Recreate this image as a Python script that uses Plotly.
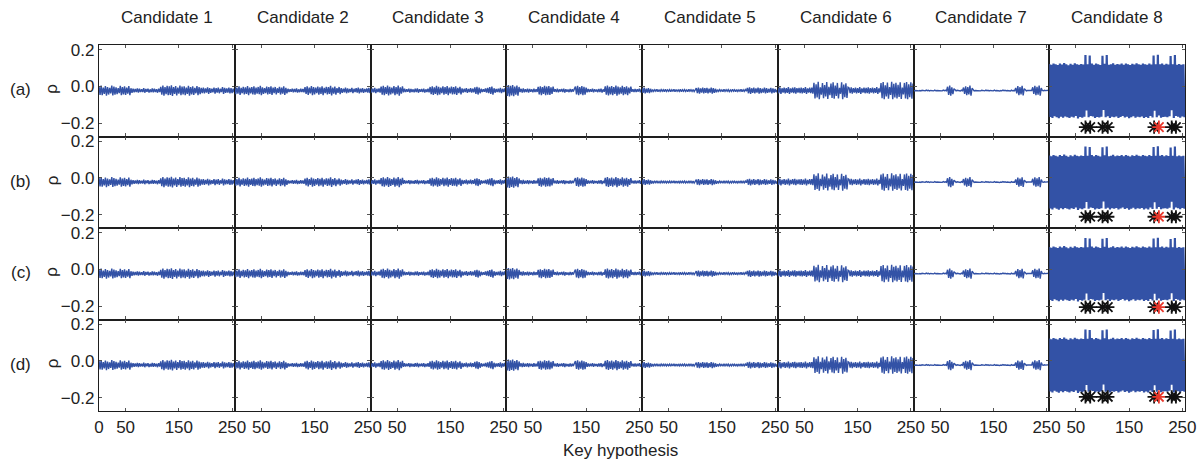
import plotly.graph_objects as go

# ---------------- data ----------------
KEYS = list(range(0, 256, 2))          # key hypotheses (sampled every 2)
CANDIDATES = [f"Candidate {i}" for i in range(1, 9)]
ROW_LABELS = ["(a)", "(b)", "(c)", "(d)"]
X_TICKS_FIRST = [0, 50, 150, 250]
X_TICKS_OTHER = [50, 150, 250]
Y_TICKS = [-0.2, 0.0, 0.2]
Y_TICKTEXT = ["\u22120.2", "0.0", "0.2"]

# correlation rho, in thousandths
RHO_C1 = [0,-46,4,-48,-6,-40,2,-50,-3,-44,-8,-38,5,-49,-1,-45,-5,-42,-9,-36,3,-47,-4,-43,0,-46,-7,-39,2,-48,-10,-35,
          -12,-32,-14,-30,-11,-33,-13,-31,-15,-30,-10,-34,-14,-29,-12,-33,-16,-31,-11,-32,-13,-30,-15,-34,-12,-31,
          -2,-45,5,-50,-4,-42,3,-48,0,-46,6,-51,-3,-41,2,-49,-7,-39,4,-48,-1,-44,1,-47,-6,-40,3,-50,-4,-43,0,-46,-8,-37,2,-48,-3,-42,
          -8,-36,-6,-38,-11,-33,-5,-40,-9,-35,-12,-32,-6,-39,-10,-34,-7,-37,-13,-31,-4,-41,-8,-35,-11,-33,-6,-38,-9,-36,-12,-32]
RHO_C2 = [-3,-42,-6,-39,1,-46,-8,-37,-2,-44,-5,-41,2,-47,-7,-38,-4,-43,0,-45,
          -6,-39,-3,-42,3,-48,-5,-40,-9,-36,-1,-44,-4,-41,1,-46,-7,-37,-3,-43,
          -10,-35,-2,-44,-6,-39,0,-46,-8,-37,
          -13,-31,-15,-29,-12,-32,-14,-30,-11,-33,-16,-31,-13,-30,-14,-32,
          -4,-41,0,-46,-6,-38,2,-48,-3,-43,-7,-37,-1,-45,-5,-40,1,-47,-8,-36,-2,-44,-4,-40,3,-49,-6,-39,-1,-45,-9,-35,-3,-42,
          -9,-35,-12,-32,-7,-37,-11,-33,-14,-30,-8,-36,-13,-31,-10,-34,-6,-38,-12,-32,-9,-35,-14,-30,-11,-33,-8,-36]
RHO_C3 = [-10,-34,-12,-32,-8,-36,-13,-31,-11,-33,
          -1,-45,3,-48,-4,-41,4,-49,-2,-44,-6,-38,2,-47,-3,-42,5,-50,-5,-39,0,
          -32,-13,-31,-15,-29,-12,-33,-14,-30,-16,-32,-13,-31,-11,-34,-15,-29,-14,-31,-12,-33,-16,-30,-13,-32,
          -3,-42,1,-46,-5,-40,3,-48,-2,-44,-7,-37,0,-45,-4,-41,2,-47,-6,-38,-1,-44,-3,-42,1,-46,-8,-36,-2,-43,
          -11,-33,-13,-31,-9,-35,-14,-30,-10,-34,-12,-32,-5,-40,-2,-44,-7,-37,-13,-31,-15,-29,-11,-33,-8,-36,-4,-41,-1,-45,
          -10,-34,-14,-30,-12,-32,-8,-36,-13,-31,-11,-33]
RHO_C4 = [6,-52,8,-54,3,-49,7,-53,-1,-45,4,-50,-3,
          -31,-13,-33,-11,-32,-15,-30,-12,-34,-14,-29,-16,-32,-13,-31,-15,-30,
          -2,-44,1,-47,-4,-41,3,-48,-1,-45,2,-46,-5,-40,-1,
          -29,-15,-31,-13,-32,-16,-28,-14,-30,-12,-33,-15,-29,-17,-31,-14,-30,-16,-28,-13,
          -1,-44,3,-48,-3,-42,2,-47,-2,-45,-6,
          -32,-14,-30,-16,-29,-13,-32,-15,-28,-17,-31,-14,-30,-12,-33,-16,-29,
          0,-45,4,-49,-2,-43,2,-48,-4,-41,5,-50,-1,-44,-5,-39,3,-48,-3,-42,1,-47,-6,-38,-1,
          -29,-15,-31,-14,-30,-16,-28,-13,-32,-15]
RHO_C5 = [-10,-35,-7,-38,-12,-33,-9,-36,-13,-31,
          -17,-27,-18,-26,-16,-28,-19,-27,-17,-26,-18,-28,-16,-27,-19,-26,-17,-28,-18,-27,-15,-29,-17,-26,-19,-27,-16,-28,-18,-26,-17,-27,-19,-28,-16,-26,-18,-27,-17,-28,-19,
          -9,-36,-6,-39,-11,-34,-7,-38,-10,-35,-8,-37,-12,-33,-6,-39,-10,-35,-13,-32,
          -18,-27,-17,-26,-19,-28,-16,-27,-18,-26,-17,-28,-19,-27,-16,-26,-18,-28,-17,-27,-19,-26,-16,-28,-18,-27,-17,-26,
          -8,-37,-5,-40,-10,-35,-7,-38,-11,-34,-6,-39,-9,-36,-12,-33,-7,-38,-10,-35,-13,-32,-8,-37,-11,-34,-14,-31,-18]
RHO_C6 = [-8,-37,-5,-40,-10,-34,-6,-38,-9,-35,-4,-41,-11,-33,-7,-37,-5,-39,-10,-34,-8,-36,-6,-38,-9,-35,-4,-40,-11,-33,-7,-37,-6,-39,
          20,-66,12,-60,25,-70,-5,-45,18,-64,8,-55,24,-68,-2,-48,15,-62,22,-67,5,-52,19,-65,-8,-40,23,-69,10,-58,17,-63,-4,
          -8,-36,-5,-39,-10,-34,-7,-38,-9,-35,-4,-40,-11,-33,-6,-37,-8,-36,-5,-39,-10,-34,-7,-38,-9,-35,-4,-40,-11,-33,
          18,-64,24,-69,6,-54,21,-67,-3,-46,25,-70,14,-60,20,-66,9,-57,23,-68,-6,-43,19,-65,24,-70,11,-59,22,-67,16]
RHO_C7 = [-21,-24,-22,-23,-20,-24,-22,-25,-21,-23,-22,-24,-20,-23,-21,-25,-22,-23,-21,-24,-20,-24,-22,-23,-21,-25,-22,-24,-20,-23,-21,-24,
          -2,-46,4,-50,-5,-42,-12,
          -22,-24,-21,-23,-22,-25,-20,-23,
          -6,-40,1,-48,-3,-44,5,-50,-10,
          -21,-24,-22,-23,-20,-25,-22,-24,-21,-23,-22,-24,-20,-23,-21,-25,-22,-23,-21,-24,-20,-24,-22,-23,-21,-25,-22,-24,-20,-23,-21,-24,-22,-23,-21,-25,-20,-24,-22,-23,
          -8,-38,2,-47,-4,-43,3,-49,-12,
          -21,-24,-22,-23,-20,-25,-22,
          -5,-41,3,-48,-2,-45,4,-50,-9,
          -22,-24,-21,-23,-22,-25,-21]
RHO_C8 = [122,-166,118,-171,125,-162,120,-168,116,-173,
          124,-165,119,-170,127,-163,121,-167,115,-172,
          123,-164,118,-169,126,-161,120,-174,117,-166,
          122,-170,119,-165,170,-130,121,-168,168,-160,
          124,-163,118,-171,125,-166,120,-169,116,-164,
          166,-128,123,-167,170,-162,118,-172,121,-165,
          126,-168,117,-163,122,-171,119,-166,124,-160,
          118,-169,125,-164,120,-173,116,-167,123,-162,
          119,-170,126,-165,121,-168,117,-163,124,-171,
          120,-166,118,-172,125,-161,119,-169,168,-132,
          120,-167,172,-158,121,-170,124,-166,118,-164,
          123,-168,119,-162,165,-129,120,-171,170,-160,
          117,-165,122,-170,118,-163,121,-168]
SERIES = [RHO_C1, RHO_C2, RHO_C3, RHO_C4, RHO_C5, RHO_C6, RHO_C7, RHO_C8]

# ranked key candidates marked in Candidate 8 (red = correct key)
MARK_KEYS = [68, 77, 100, 110, 197, 206, 230, 238]
MARK_RED = [0, 0, 0, 0, 0, 1, 0, 0]
MARK_LEVEL = [-0.221, -0.211, -0.205, -0.195]   # per row

# ---------------- layout / style ----------------
W, H = 1199, 461
LEFT, COLW = 99, 135.75
TOP, ROWH = 45, 91.5
XR = [0, 255]
YR = [-0.272, 0.225]
BLUE = "#3352a6"
FRAME = "#1e1e1e"
FONT = "Liberation Sans, Arial, Helvetica, sans-serif"
FS = 17
TXT = "#222222"

fig = go.Figure()
layout = {}
annotations = []

for r in range(4):
    for c in range(8):
        k = r * 8 + c + 1
        sfx = "" if k == 1 else str(k)
        vals = SERIES[c]
        fig.add_trace(go.Scatter(
            x=KEYS[:len(vals)], y=[v / 1000 for v in vals],
            mode="lines", line=dict(color=BLUE, width=2.2 if c == 7 else 1.4),
            xaxis="x" + sfx, yaxis="y" + sfx,
            showlegend=False, hoverinfo="skip"))
        if c == 7:
            cols = ["#e8372b" if m else "#111111" for m in MARK_RED]
            fig.add_trace(go.Scatter(
                x=MARK_KEYS, y=[MARK_LEVEL[r]] * len(MARK_KEYS),
                mode="markers",
                marker=dict(symbol="asterisk-open", size=11, color=cols,
                            line=dict(width=1.8, color=cols)),
                xaxis="x" + sfx, yaxis="y" + sfx,
                showlegend=False, hoverinfo="skip"))
        x0 = (LEFT + c * COLW) / W
        x1 = (LEFT + (c + 1) * COLW) / W
        y1 = 1 - (TOP + r * ROWH) / H
        y0 = 1 - (TOP + (r + 1) * ROWH) / H
        common = dict(showline=True, linecolor=FRAME, linewidth=1.4, mirror="allticks",
                      ticks="inside", ticklen=3, tickwidth=1, tickcolor="#555555",
                      showgrid=False, zeroline=False, automargin=False,
                      tickfont=dict(family=FONT, size=FS, color=TXT))
        layout["xaxis" + sfx] = dict(
            common, domain=[x0, x1], range=XR, anchor="y" + sfx,
            tickmode="array",
            tickvals=X_TICKS_FIRST if c == 0 else X_TICKS_OTHER,
            showticklabels=(r == 3))
        layout["yaxis" + sfx] = dict(
            common, domain=[y0, y1], range=YR, anchor="x" + sfx,
            tickmode="array", tickvals=Y_TICKS, ticktext=Y_TICKTEXT,
            showticklabels=(c == 0))

def label(text, xpx, ypx, angle=0):
    return dict(text=text, x=xpx / W, y=1 - ypx / H, xref="paper", yref="paper",
                xanchor="center", yanchor="middle", showarrow=False, textangle=angle,
                font=dict(family=FONT, size=FS, color=TXT))

for c, name in enumerate(CANDIDATES):
    annotations.append(label(name, LEFT + (c + 0.5) * COLW, 18))

for r, lab in enumerate(ROW_LABELS):
    yc = TOP + (r + 0.5) * ROWH - 1
    annotations.append(label(lab, 21, yc))
    annotations.append(label("\u03c1", 52, yc - 1, -90))

annotations.append(label("Key hypothesis", 620, 450))

fig.update_layout(
    template="none", autosize=False,
    width=W, height=H, margin=dict(l=0, r=0, t=0, b=0, pad=0),
    paper_bgcolor="white", plot_bgcolor="white",
    annotations=annotations, **layout)

fig.write_html("out.html", config={"displayModeBar": False},
               post_script="document.body.style.margin='0';")
